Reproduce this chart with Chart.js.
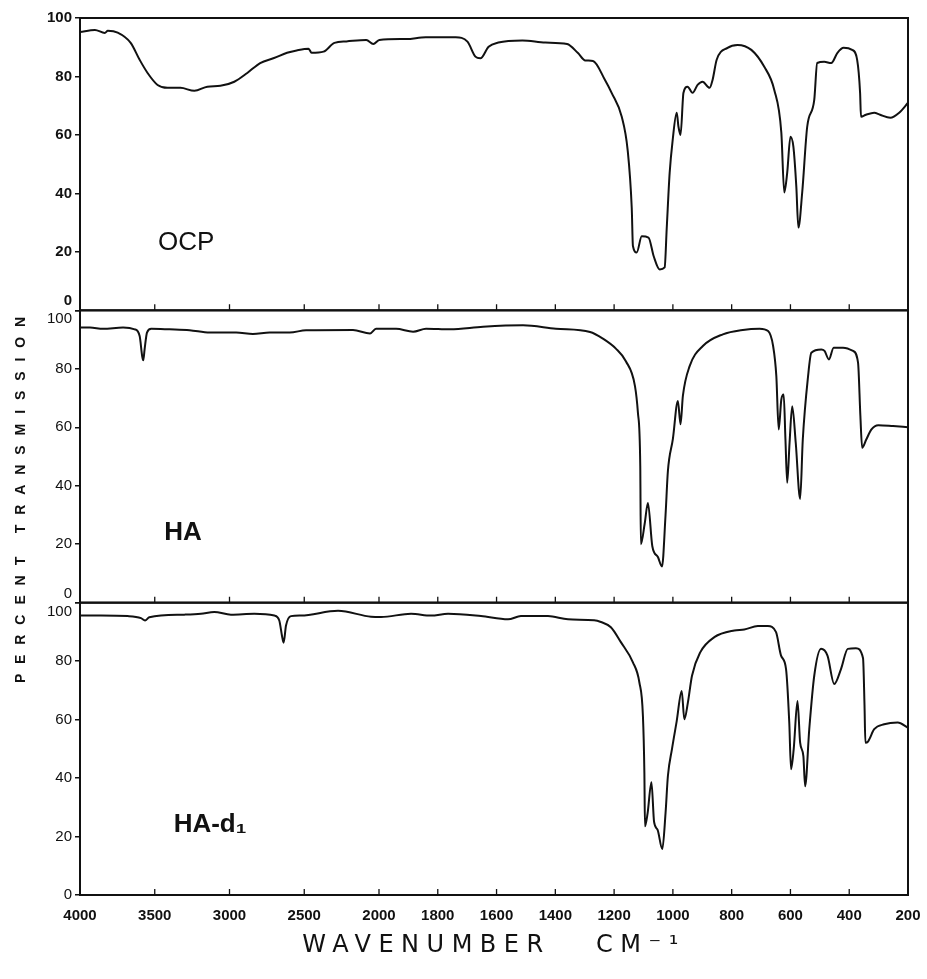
<!DOCTYPE html>
<html>
<head>
<meta charset="utf-8">
<title>IR OCP / HA / HA-d1</title>
<script src="https://cdn.jsdelivr.net/npm/chart.js@4.4.1/dist/chart.umd.min.js"></script>
<style>
  html, body { margin: 0; padding: 0; background: #fff; }
  #contenedor { width: 927px; height: 979px; }
</style>
</head>
<body>
<div id="contenedor"><canvas id="grafica" width="927" height="979"></canvas></div>
<script>
var xTickValues = [4000, 3500, 3000, 2500, 2000, 1800, 1600, 1400, 1200, 1000, 800, 600, 400, 200];
var yTickValues = [0, 20, 40, 60, 80, 100];
var panelNames = ['OCP', 'HA', 'HA-d\u2081'];

var ocpWavenumber = [4000, 3900, 3834, 3814, 3748, 3661, 3601, 3548, 3481, 3415, 3328, 3235, 3148, 3061, 2968, 2881, 2795, 2702, 2615, 2551,
  2471, 2451, 2371, 2298, 2218, 2085, 2038, 1999, 1907, 1841, 1739, 1699, 1672, 1655, 1627, 1594, 1512, 1434, 1360, 1323,
  1299, 1272, 1231, 1208, 1174, 1154, 1140, 1136, 1123, 1106, 1083, 1065, 1045, 1028, 1021, 1011, 1001, 987, 981, 974,
  964, 950, 933, 916, 899, 875, 865, 851, 814, 780, 733, 689, 655, 631, 621, 611, 600, 590, 580, 573,
  560, 543, 519, 509, 485, 461, 440, 419, 390, 373, 363, 360, 343, 315, 295, 260, 230, 200];
var ocpTransmission = [95.2, 95.9, 94.9, 95.6, 95, 91.5, 85.7, 81.2, 77.1, 76.1, 76.1, 75.1, 76.5, 76.8, 78.2, 81.2, 84.6, 86.3, 88.1, 88.9,
  89.5, 88.1, 88.5, 91.5, 92, 92.5, 91.1, 92.5, 92.8, 93.4, 93.4, 91.9, 86.8, 86.2, 90.2, 91.6, 92.3, 91.6, 91.1, 88,
  85.5, 85.3, 78.8, 74.3, 66.2, 54.9, 35, 22, 19.8, 25.3, 24.9, 18.4, 14, 14.7, 28, 47, 58, 67.6, 62.8, 60,
  74.4, 76.5, 74.4, 77.1, 78.2, 76.1, 78.8, 85.7, 89.8, 90.8, 89.1, 83.3, 75.4, 60.8, 40.3, 47.1, 59.4, 56, 42.3, 28.3,
  40.3, 62.8, 72, 84.6, 85, 84.6, 88.1, 89.8, 89.1, 85.7, 74.4, 66.2, 66.9, 67.6, 66.9, 65.9, 67.6, 71];

var haWavenumber = [4000, 3933, 3846, 3712, 3634, 3601, 3584, 3577, 3568, 3552, 3523, 3401, 3267, 3132, 2955, 2843, 2731, 2597, 2488, 2174,
  2060, 2020, 1942, 1884, 1840, 1758, 1646, 1510, 1398, 1282, 1238, 1194, 1160, 1129, 1119, 1111, 1109, 1096, 1085, 1070,
  1051, 1037, 1025, 1017, 1000, 983, 974, 966, 943, 898, 830, 762, 705, 676, 659, 648, 640, 631, 623, 617,
  611, 603, 594, 582, 567, 558, 540, 529, 495, 484, 469, 453, 421, 387, 370, 362, 356, 342, 325, 301,
  251, 200];
var haTransmission = [94.1, 94.1, 93.7, 94.1, 93.5, 91.2, 84.3, 82.9, 86.6, 92.4, 93.7, 93.5, 93.2, 92.4, 92.4, 91.9, 92.4, 92.4, 93.2, 93.3,
  92.1, 93.7, 93.7, 92.7, 93.7, 93.5, 94.4, 94.9, 93.7, 92.6, 90.3, 86.9, 82.6, 74.1, 65, 46.7, 20, 27, 34.1, 19.3,
  15.6, 12.4, 30, 45, 56, 69, 61, 70.7, 80.9, 87.8, 91.8, 93.3, 93.7, 92.9, 87.8, 77.5, 59.2, 69.5, 71.2, 55.8,
  41, 54.7, 67.2, 54.7, 35.5, 55.8, 77.5, 85.5, 86.6, 86.1, 83.2, 87.2, 87.2, 86.1, 82.1, 63.8, 53, 55.8, 59.2, 60.7,
  60.4, 60];

var hadWavenumber = [4000, 3860, 3681, 3592, 3565, 3536, 3302, 3191, 3102, 2990, 2834, 2700, 2667, 2649, 2638, 2622, 2589, 2522, 2274, 2053,
  1993, 1891, 1823, 1765, 1653, 1561, 1517, 1425, 1357, 1268, 1245, 1211, 1177, 1136, 1114, 1102, 1097, 1095, 1086, 1073,
  1064, 1052, 1036, 1025, 1017, 1003, 987, 970, 961, 949, 935, 907, 859, 791, 757, 711, 677, 649, 632, 615,
  604, 598, 589, 576, 567, 556, 550, 536, 519, 496, 474, 451, 428, 405, 377, 353, 348, 345, 336, 315,
  281, 235, 200];
var hadTransmission = [95.6, 95.6, 95.4, 94.7, 93.9, 95, 95.9, 96.2, 96.8, 95.9, 96.2, 95.6, 93.9, 88.7, 86.3, 92.2, 95.4, 95.6, 97.2, 95.2,
  95.1, 96.2, 95.6, 96.2, 95.4, 94.3, 95.4, 95.4, 94.3, 94, 93.4, 91.6, 86.5, 79.6, 72.7, 61.3, 41.8, 23.5, 28, 38.6,
  25, 22.3, 15.7, 28, 40.7, 50, 59.5, 69.8, 60.1, 65.8, 75, 83, 88.2, 90.5, 90.8, 92, 92, 89.9, 81.9, 77.3,
  59, 43, 49.8, 66.4, 52.1, 47.5, 37.2, 56.7, 75, 84.2, 81.9, 72.2, 77.3, 84.2, 84.4, 81, 65, 52.1, 52.5, 56.7,
  58.4, 59, 57.2];

// Escala del espectrometro: cambia de paso a 2000 cm-1
var corteOnda = 2000;
var corteFrac = 299 / 828;

class EscalaOnda extends Chart.LinearScale {
  getPixelForValue(value) {
    var f;
    if (value >= corteOnda) {
      f = (this.max - value) / (this.max - corteOnda) * corteFrac;
    } else {
      f = corteFrac + (corteOnda - value) / (corteOnda - this.min) * (1 - corteFrac);
    }
    return this.left + f * this.width;
  }
  getValueForPixel(pixel) {
    var f = (pixel - this.left) / this.width;
    if (f <= corteFrac) return this.max - f / corteFrac * (this.max - corteOnda);
    return corteOnda - (f - corteFrac) / (1 - corteFrac) * (corteOnda - this.min);
  }
  drawTitle() {
    this.ctx.save();
    this.ctx.letterSpacing = '7.5px';
    super.drawTitle();
    this.ctx.restore();
  }
}
EscalaOnda.id = 'numeroOnda';
EscalaOnda.defaults = Chart.LinearScale.defaults;
Chart.register(EscalaOnda);

var fuente = '"Liberation Sans", Arial, sans-serif';

function puntos(ondas, valores) {
  return ondas.map(function (w, i) { return { x: w, y: valores[i] }; });
}

// eje Y de cada panel; subir el 0 o bajar el 100 donde se juntan dos paneles
function ejeY(subeCero, bajaCien, negrita) {
  return {
    type: 'linear',
    position: 'left',
    stack: 'espectros',
    stackWeight: 1,
    min: 0,
    max: 100,
    afterBuildTicks: function (s) {
      s.ticks = yTickValues.map(function (v) { return { value: v }; });
    },
    afterFit: function (s) {
      s.width = 80;
      s.paddingTop = 0;
      s.paddingBottom = 0;
    },
    grid: { drawOnChartArea: false, tickLength: 5, color: '#111', lineWidth: 1.5 },
    border: { display: false },
    ticks: {
      autoSkip: false,
      padding: 3,
      color: '#111',
      font: { family: fuente, size: 15, weight: negrita ? 'bold' : 'normal' },
      callback: function (v) {
        if (v === 0 && subeCero) return ['0', ''];
        if (v === 100 && bajaCien) return ['', '100'];
        return String(v);
      }
    }
  };
}

var ejesPanel = ['yOCP', 'yHA', 'yHAD'];

// marcos de cada panel y marcas del eje X hacia dentro
var marcos = {
  id: 'marcos',
  afterDatasetsDraw: function (chart) {
    var ctx = chart.ctx;
    var area = chart.chartArea;
    var ejeX = chart.scales.x;
    ctx.save();
    ctx.strokeStyle = '#111';
    ejesPanel.forEach(function (id) {
      var s = chart.scales[id];
      ctx.lineWidth = 2;
      ctx.strokeRect(area.left, s.top, area.right - area.left, s.bottom - s.top);
      ctx.lineWidth = 1.3;
      ctx.beginPath();
      ejeX.ticks.forEach(function (t) {
        var px = ejeX.getPixelForValue(t.value);
        ctx.moveTo(px, s.bottom);
        ctx.lineTo(px, s.bottom - 6);
      });
      ctx.stroke();
    });
    ctx.restore();
  }
};

// nombre de cada muestra dentro de su panel
var nombres = {
  id: 'nombres',
  afterDatasetsDraw: function (chart) {
    var ctx = chart.ctx;
    var ejeX = chart.scales.x;
    var sitios = [
      { onda: 3290, valor: 23, peso: 'normal' },
      { onda: 3311, valor: 24, peso: 'bold' },
      { onda: 3130, valor: 24, peso: 'bold' }
    ];
    ctx.save();
    ctx.fillStyle = '#111';
    ctx.textAlign = 'center';
    ctx.textBaseline = 'middle';
    ejesPanel.forEach(function (id, i) {
      ctx.font = sitios[i].peso + ' 26px ' + fuente + ', "DejaVu Sans"';
      ctx.fillText(panelNames[i], ejeX.getPixelForValue(sitios[i].onda), chart.scales[id].getPixelForValue(sitios[i].valor));
    });
    ctx.restore();
  }
};

// titulo vertical con letras espaciadas
var tituloY = {
  id: 'tituloY',
  afterDraw: function (chart) {
    var ctx = chart.ctx;
    var texto = 'PERCENT TRANSMISSION';
    ctx.save();
    ctx.font = 'bold 14px ' + fuente;
    var ancho = ctx.measureText(texto).width;
    var espacio = (366 - ancho) / (texto.length - 1);
    ctx.letterSpacing = espacio.toFixed(1) + 'px';
    ctx.fillStyle = '#111';
    ctx.textAlign = 'center';
    ctx.textBaseline = 'middle';
    ctx.translate(21, 500);
    ctx.rotate(-Math.PI / 2);
    ctx.fillText(texto, espacio / 2, 0);
    ctx.restore();
  }
};

function serie(nombre, ondas, valores, eje) {
  return {
    label: nombre,
    data: puntos(ondas, valores),
    yAxisID: eje,
    borderColor: '#111',
    borderWidth: 2,
    pointRadius: 0,
    fill: false,
    cubicInterpolationMode: 'monotone'
  };
}

var grafica = new Chart(document.getElementById('grafica').getContext('2d'), {
  type: 'line',
  data: {
    datasets: [
      serie(panelNames[0], ocpWavenumber, ocpTransmission, 'yOCP'),
      serie(panelNames[1], haWavenumber, haTransmission, 'yHA'),
      serie(panelNames[2], hadWavenumber, hadTransmission, 'yHAD')
    ]
  },
  options: {
    responsive: false,
    animation: false,
    devicePixelRatio: 1,
    layout: { padding: { top: 18, right: 19, left: 0, bottom: 0 } },
    plugins: { legend: { display: false }, tooltip: { enabled: false } },
    scales: {
      x: {
        type: 'numeroOnda',
        position: 'bottom',
        min: 200,
        max: 4000,
        afterBuildTicks: function (s) {
          s.ticks = xTickValues.map(function (v) { return { value: v }; });
        },
        afterFit: function (s) {
          s.height = 84;
          s.paddingLeft = 0;
          s.paddingRight = 0;
        },
        grid: { display: false, drawTicks: false },
        border: { display: false },
        ticks: {
          autoSkip: false,
          maxRotation: 0,
          padding: 12,
          color: '#111',
          font: { family: fuente, size: 15, weight: 'bold' },
          callback: function (v) { return String(v); }
        },
        title: {
          display: true,
          text: 'WAVENUMBER   CM\u207B\u00B9',
          color: '#111',
          font: { family: '"DejaVu Sans", sans-serif', size: 24 },
          padding: { top: 0, bottom: 19 }
        }
      },
      yHAD: ejeY(false, true, false),
      yHA: ejeY(true, true, false),
      yOCP: ejeY(true, false, true)
    }
  },
  plugins: [marcos, nombres, tituloY]
});
</script>
</body>
</html>
